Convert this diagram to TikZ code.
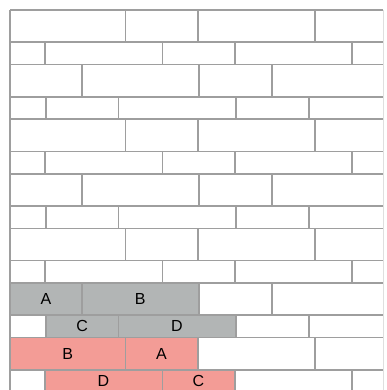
\documentclass[tikz,border=0pt]{standalone}
\usepackage{fontspec}
\setmainfont{Liberation Sans}
\definecolor{joint}{HTML}{9E9E9E}
\definecolor{grayfill}{HTML}{B2B5B5}
\definecolor{pinkfill}{HTML}{F39C96}
\begin{document}
\begin{tikzpicture}[x=1pt,y=-1pt,
  jointline/.style={draw=joint, line width=1.6pt},
  graybrick/.style={fill=grayfill},
  pinkbrick/.style={fill=pinkfill},
  lbl/.style={font=\fontsize{16}{16}\selectfont, text=black, inner sep=0pt}]
\useasboundingbox (0,0) rectangle (386,390);
\fill[white] (0,0) rectangle (386,390);
\begin{scope}
\clip (9,9) rectangle (383,390);
% coloured bricks
\fill[graybrick] (10,282.9) rectangle (82,315.2);
\fill[graybrick] (82,282.9) rectangle (198.7,315.2);
\fill[graybrick] (46,315.2) rectangle (118.3,337.5);
\fill[graybrick] (118.3,315.2) rectangle (235.7,337.5);
\fill[pinkbrick] (10,337.5) rectangle (125.3,369.8);
\fill[pinkbrick] (125.3,337.5) rectangle (197.7,369.8);
\fill[pinkbrick] (44.7,369.8) rectangle (162.3,392);
\fill[pinkbrick] (162.3,369.8) rectangle (234.7,392);
% horizontal courses
\foreach \y in {42.3,64.6,97,119.2,151.5,173.8,206,228.3,260.6,282.9,315.2,337.5,369.8}
  \draw[jointline] (10,\y) -- (383,\y);
\draw[jointline, line width=2.2pt] (10,10) -- (383,10);
\draw[jointline, line width=2pt] (10,10) -- (10,392);
% tall rows type A
\foreach \y/\z in {10/42.3,119.2/151.5,228.3/260.6,337.5/369.8}
  \foreach \x in {125.3,197.7,315}
    \draw[jointline] (\x,\y) -- (\x,\z);
% short rows type A
\foreach \y/\z in {42.3/64.6,151.5/173.8,260.6/282.9,369.8/392}
  \foreach \x in {44.7,162.3,234.7,351.7}
    \draw[jointline] (\x,\y) -- (\x,\z);
% tall rows type B
\foreach \y/\z in {64.6/97,173.8/206,282.9/315.2}
  \foreach \x in {82,198.7,271.7}
    \draw[jointline] (\x,\y) -- (\x,\z);
% short rows type B
\foreach \y/\z in {97/119.2,206/228.3,315.2/337.5}
  \foreach \x in {46,118.3,235.7,308.7}
    \draw[jointline] (\x,\y) -- (\x,\z);
\end{scope}
\draw[gray!25, line width=0.8pt] (383.5,10) -- (383.5,390);
% labels
\node[lbl] (ga) at (46,299) {A};
\node[lbl] (gb) at (140.3,299) {B};
\node[lbl] (gc) at (82.2,326.3) {C};
\node[lbl] (gd) at (177,326.3) {D};
\node[lbl] (pb) at (67.6,353.6) {B};
\node[lbl] (pa) at (161.5,353.6) {A};
\node[lbl] (pd) at (103.5,380.5) {D};
\node[lbl] (pc) at (198.5,380.5) {C};
\end{tikzpicture}
\end{document}
